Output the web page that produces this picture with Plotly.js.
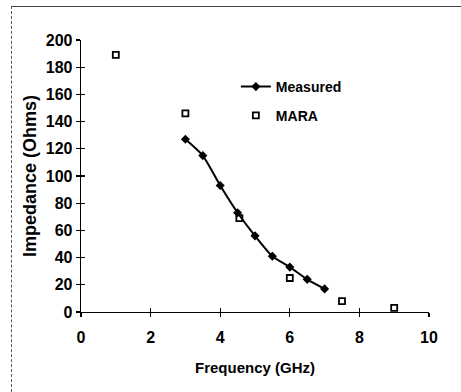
<!DOCTYPE html>
<html>
<head>
<meta charset="utf-8">
<script src="https://cdn.plot.ly/plotly-3.0.1.min.js"></script>
<style>
  html, body { margin: 0; padding: 0; background: #fff; }
  #wrap { position: relative; width: 461px; height: 392px; }
  #chart { width: 461px; height: 392px; }
  /* frame lines along the top and left edges of the figure */
  #frame { position: absolute; left: 11px; top: 6px; right: 0; bottom: 0;
           border-top: 1.5px solid #444; border-left: 1px dashed #555;
           pointer-events: none; }
</style>
</head>
<body>
<div id="wrap">
  <div id="chart"></div>
  <div id="frame"></div>
</div>
<script>
// Measured impedance vs frequency
const measuredFreq = [3, 3.5, 4, 4.5, 5, 5.5, 6, 6.5, 7];
const measuredZ    = [127, 115, 93, 73, 56, 41, 33, 24, 17];

// MARA simulation results
const maraFreq = [1, 3, 4.55, 6, 7.5, 9];
const maraZ    = [189, 146, 69, 25, 8, 3];

const xTicks = [0, 2, 4, 6, 8, 10];
const yTicks = [0, 20, 40, 60, 80, 100, 120, 140, 160, 180, 200];

const boldFont = 'Liberation Sans, Arial, sans-serif';

const traces = [
  {
    x: measuredFreq, y: measuredZ, name: 'Measured',
    type: 'scatter', mode: 'lines+markers',
    line: { color: '#000', width: 2, shape: 'spline', smoothing: 0.6 },
    marker: { symbol: 'diamond', size: 7, color: '#000' },
    cliponaxis: false, legend: 'legend'
  },
  {
    x: maraFreq, y: maraZ, name: 'MARA',
    type: 'scatter', mode: 'markers',
    marker: { symbol: 'square-open', size: 6, color: '#000', line: { width: 1.8, color: '#000' } },
    cliponaxis: false, legend: 'legend2'
  }
];

const axisCommon = {
  showgrid: false, zeroline: false, showline: true,
  linecolor: '#000', linewidth: 1.3,
  tickcolor: '#000', tickwidth: 1.3, ticklen: 4
};

const layout = {
  width: 461, height: 392,
  margin: { l: 81, r: 32, t: 40, b: 80 },
  paper_bgcolor: '#fff', plot_bgcolor: '#fff',
  font: { family: boldFont, color: '#000' },
  xaxis: Object.assign({}, axisCommon, {
    range: [0, 10], tickvals: xTicks, ticks: 'outside',
    ticklabelstandoff: 6,
    tickfont: { size: 16, family: boldFont, weight: 'bold' },
    title: { text: 'Frequency (GHz)', standoff: 18,
             font: { size: 15, family: boldFont, weight: 'bold' } }
  }),
  yaxis: Object.assign({}, axisCommon, {
    range: [0, 200], tickvals: yTicks, ticks: 'outside',
    tickfont: { size: 16, family: boldFont, weight: 'bold' },
    title: { text: 'Impedance (Ohms)', standoff: 4,
             font: { size: 18, family: boldFont, weight: 'bold' } }
  }),
  // mirrored inner ticks so each tick crosses its axis line
  xaxis2: Object.assign({}, axisCommon, {
    range: [0, 10], tickvals: xTicks, ticks: 'inside', showline: false,
    showticklabels: false, overlaying: 'x', anchor: 'y'
  }),
  yaxis2: Object.assign({}, axisCommon, {
    range: [0, 200], tickvals: yTicks, ticks: 'inside', showline: false,
    showticklabels: false, overlaying: 'y', anchor: 'x'
  }),
  legend: {
    x: 0.445, y: 0.886, xanchor: 'left', yanchor: 'top',
    bgcolor: 'rgba(0,0,0,0)',
    font: { size: 14, family: boldFont, weight: 'bold' }
  },
  legend2: {
    x: 0.445, y: 0.780, xanchor: 'left', yanchor: 'top',
    bgcolor: 'rgba(0,0,0,0)',
    font: { size: 14, family: boldFont, weight: 'bold' }
  },
  showlegend: true
};

// invisible trace so the inner-tick axes get drawn
traces.push({ x: [0], y: [0], xaxis: 'x2', yaxis: 'y2', mode: 'markers',
              marker: { opacity: 0 }, showlegend: false, hoverinfo: 'skip' });

Plotly.newPlot('chart', traces, layout, { staticPlot: true, displayModeBar: false });
</script>
</body>
</html>
